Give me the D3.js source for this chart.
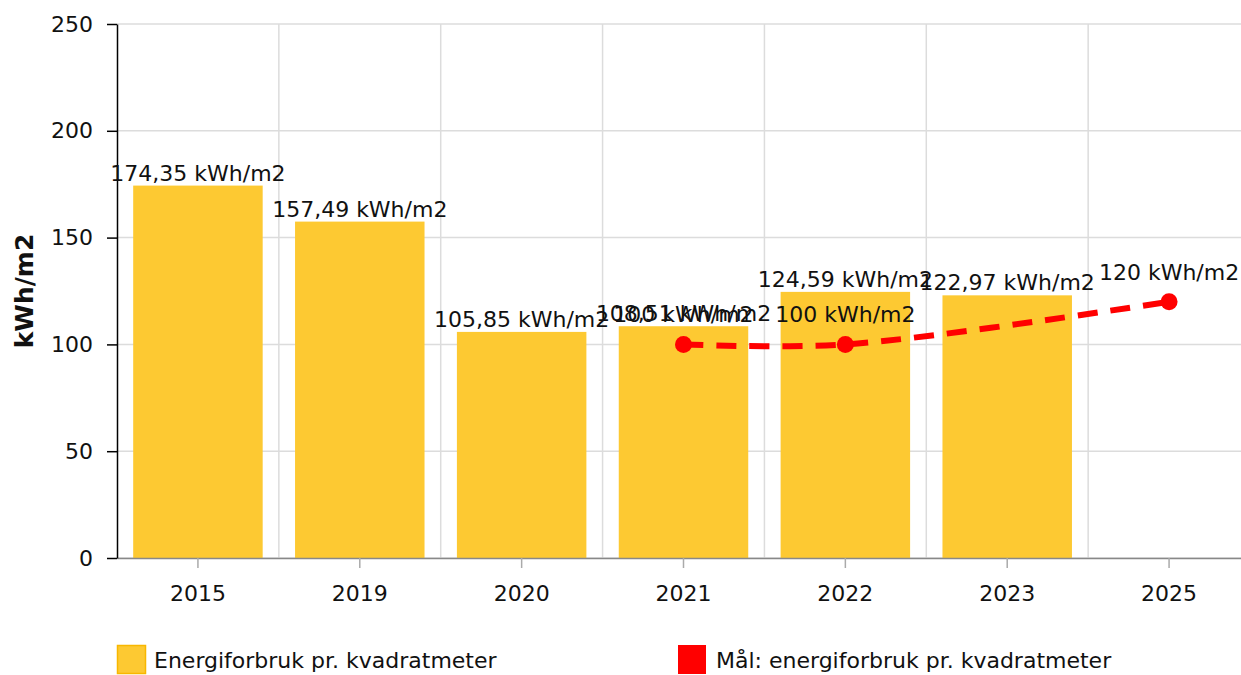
<!DOCTYPE html>
<html lang="no">
<head>
<meta charset="UTF-8">
<title>Energiforbruk pr. kvadratmeter</title>
<script src="https://d3js.org/d3.v7.min.js"></script>
<style>
    body { margin: 0; background: #fff; }
    svg text { fill: #111; font-family: "DejaVu Sans", Verdana, sans-serif; }
</style>
</head>
<body>
<div id="chart"></div>
<script>
    const years = ['2015', '2019', '2020', '2021', '2022', '2023', '2025'];
    const usage = [174.35, 157.49, 105.85, 108.51, 124.59, 122.97, null];
    const goal = [null, null, null, 100, 100, null, 120];
    const yTicks = [0, 50, 100, 150, 200, 250];
    const usageName = 'Energiforbruk pr. kvadratmeter';
    const goalName = 'Mål: energiforbruk pr. kvadratmeter';

    const W = 1241, H = 675;
    const margin = { top: 24, right: -9, bottom: 117, left: 117 };
    const innerW = W - margin.left - margin.right;
    const innerH = H - margin.top - margin.bottom;
    const fontSize = 22;

    const fmt = v => (Number.isInteger(v) ? String(v) : v.toFixed(2).replace('.', ',')) + ' kWh/m2';

    const svg = d3.select('#chart').append('svg')
        .attr('width', W).attr('height', H)
        .style('font-size', fontSize + 'px');

    const g = svg.append('g').attr('transform', `translate(${margin.left},${margin.top})`);

    const x = d3.scaleBand().domain(years).range([0, innerW]).paddingInner(0.2).paddingOuter(0.1);
    const y = d3.scaleLinear().domain([0, 250]).range([innerH, 0]);
    const step = x.step();
    const gap = step * 0.1;

    // grid
    g.append('g').selectAll('line')
        .data(yTicks).join('line')
        .attr('x1', 0).attr('x2', innerW)
        .attr('y1', d => y(d)).attr('y2', d => y(d))
        .attr('stroke', '#dcdcdc').attr('stroke-width', 1.5);
    g.append('g').selectAll('line')
        .data(years.slice(1)).join('line')
        .attr('x1', d => x(d) - gap)
        .attr('x2', d => x(d) - gap)
        .attr('y1', 0).attr('y2', innerH)
        .attr('stroke', '#dcdcdc').attr('stroke-width', 1.5);

    // bars
    const barData = years.map((d, i) => ({ year: d, v: usage[i] })).filter(d => d.v != null);
    g.append('g').selectAll('rect')
        .data(barData).join('rect')
        .attr('x', d => x(d.year))
        .attr('y', d => y(d.v))
        .attr('width', x.bandwidth())
        .attr('height', d => innerH - y(d.v))
        .attr('fill', '#fdc932');

    // x axis
    const xAxis = g.append('g')
        .attr('transform', `translate(0,${innerH})`)
        .call(d3.axisBottom(x).tickSize(10).tickPadding(17).tickSizeOuter(0));
    xAxis.attr('font-family', null).attr('font-size', null);
    xAxis.select('.domain').attr('stroke', '#888').attr('stroke-width', 1.5);
    xAxis.selectAll('.tick line').attr('stroke', '#aaa').attr('stroke-width', 1.5);

    // y axis
    const yAxis = g.append('g')
        .call(d3.axisLeft(y).tickValues(yTicks).tickSize(10).tickPadding(14).tickSizeOuter(0));
    yAxis.attr('font-family', null).attr('font-size', null);
    yAxis.select('.domain').attr('stroke', '#000').attr('stroke-width', 1.5);
    yAxis.selectAll('.tick line').attr('stroke', '#000').attr('stroke-width', 1.5);

    svg.append('text')
        .attr('transform', `translate(33,${margin.top + innerH / 2}) rotate(-90)`)
        .attr('text-anchor', 'middle')
        .style('font-weight', 'bold')
        .style('font-size', '25px')
        .text('kWh/m2');

    // bar labels
    g.append('g').selectAll('text')
        .data(barData).join('text')
        .attr('x', d => x(d.year) + x.bandwidth() / 2)
        .attr('y', d => y(d.v) - 5)
        .attr('text-anchor', 'middle')
        .text(d => fmt(d.v));

    // goal line
    const goalData = years.map((d, i) => ({ year: d, v: goal[i] })).filter(d => d.v != null);
    const cx = d => x(d.year) + x.bandwidth() / 2;
    const line = d3.line().x(cx).y(d => y(d.v)).curve(d3.curveCatmullRom.alpha(0.5));
    g.append('path')
        .datum(goalData)
        .attr('d', line)
        .attr('fill', 'none')
        .attr('stroke', '#ff0000')
        .attr('stroke-width', 6)
        .attr('stroke-dasharray', '20,13');
    g.append('g').selectAll('circle')
        .data(goalData).join('circle')
        .attr('cx', cx).attr('cy', d => y(d.v))
        .attr('r', 8.5)
        .attr('fill', '#ff0000');
    g.append('g').selectAll('text')
        .data(goalData).join('text')
        .attr('x', cx)
        .attr('y', d => y(d.v) - 22)
        .attr('text-anchor', 'middle')
        .text(d => fmt(d.v));

    // legend
    const legend = svg.append('g');
    const l1 = legend.append('g').attr('transform', 'translate(117,645)');
    l1.append('rect').attr('x', 0.5).attr('y', 0.5).attr('width', 28).attr('height', 28)
        .attr('fill', '#fdc932').attr('stroke', '#f8b700').attr('stroke-width', 1.5);
    l1.append('text').attr('x', 37).attr('y', 23).text(usageName);
    const l2 = legend.append('g').attr('transform', 'translate(678,645)');
    l2.append('rect').attr('width', 28).attr('height', 29).attr('fill', '#ff0000');
    l2.append('text').attr('x', 38).attr('y', 23).text(goalName);
</script>
</body>
</html>
